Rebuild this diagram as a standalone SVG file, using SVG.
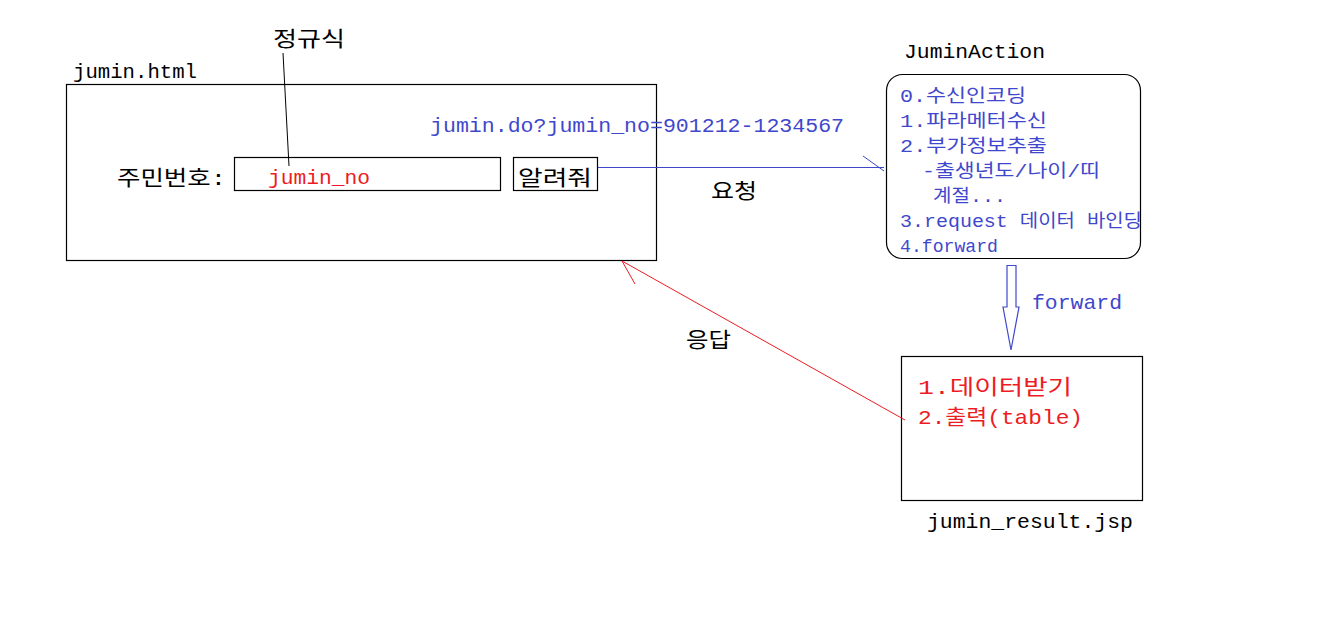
<svg xmlns="http://www.w3.org/2000/svg" width="1330" height="618" viewBox="0 0 1330 618">
<style>
.t{font-family:"Liberation Mono","Noto Sans CJK KR",monospace;font-size:21px;fill:#000}
.b{fill:#3f48cc;font-size:18px}
.r{fill:#ed1c24}
.bl{fill:#3f48cc}
.box{fill:#fff;stroke:#000;stroke-width:1.2}
</style>
<rect width="1330" height="618" fill="#fff"/>
<g id="jumin-html">
<rect class="box" x="66.5" y="84.5" width="590" height="176"/>
<text class="t" x="73" y="78" textLength="124" lengthAdjust="spacingAndGlyphs">jumin.html</text>
<text class="t" x="117" y="185" textLength="109" lengthAdjust="spacingAndGlyphs">주민번호:</text>
<rect class="box" x="234.5" y="157.5" width="266" height="33"/>
<text class="t r" x="268" y="184" textLength="102" lengthAdjust="spacingAndGlyphs">jumin_no</text>
<rect class="box" x="513.5" y="157.5" width="84" height="33"/>
<text class="t" x="518" y="185" textLength="74" lengthAdjust="spacingAndGlyphs">알려줘</text>
</g>
<g id="regex-label">
<text class="t" x="273" y="46" textLength="72" lengthAdjust="spacingAndGlyphs">정규식</text>
</g>
<g id="url-label">
<text class="t bl" x="430" y="132" textLength="414" lengthAdjust="spacingAndGlyphs">jumin.do?jumin_no=901212-1234567</text>
</g>
<g id="jumin-action">
<text class="t" x="904" y="58" textLength="141" lengthAdjust="spacingAndGlyphs">JuminAction</text>
<rect class="box" x="886.5" y="74.5" width="254" height="184" rx="16"/>
<text class="t b" x="900" y="102" textLength="126" lengthAdjust="spacingAndGlyphs">0.수신인코딩</text>
<text class="t b" x="900" y="127" textLength="147" lengthAdjust="spacingAndGlyphs">1.파라메터수신</text>
<text class="t b" x="900" y="152" textLength="147" lengthAdjust="spacingAndGlyphs">2.부가정보추출</text>
<text class="t b" x="922" y="177" textLength="178" lengthAdjust="spacingAndGlyphs">-출생년도/나이/띠</text>
<text class="t b" x="933" y="202" textLength="73" lengthAdjust="spacingAndGlyphs">계절...</text>
<text class="t b" x="900" y="227" textLength="242" lengthAdjust="spacingAndGlyphs">3.request 데이터 바인딩</text>
<text class="t b" x="900" y="252" textLength="98" lengthAdjust="spacingAndGlyphs">4.forward</text>
</g>
<g id="jumin-result">
<rect class="box" x="901.5" y="356.5" width="241" height="144"/>
<text class="t r" x="918" y="394" textLength="154" lengthAdjust="spacingAndGlyphs">1.데이터받기</text>
<text class="t r" x="918" y="424" textLength="165" lengthAdjust="spacingAndGlyphs">2.출력(table)</text>
<text class="t" x="927" y="528" textLength="206" lengthAdjust="spacingAndGlyphs">jumin_result.jsp</text>
</g>
<g id="connectors">
<line x1="283" y1="53" x2="289" y2="166" stroke="#000" stroke-width="1"/>
<g id="request">
<line x1="598" y1="167.5" x2="884" y2="167.5" stroke="#3f48cc" stroke-width="1"/>
<line x1="863" y1="156" x2="884" y2="171" stroke="#3f48cc" stroke-width="1"/>
<text class="t" x="711" y="198" textLength="46" lengthAdjust="spacingAndGlyphs">요청</text>
</g>
<g id="response">
<line x1="905" y1="420" x2="622" y2="261" stroke="#ed1c24" stroke-width="1"/>
<line x1="622" y1="261" x2="635" y2="284" stroke="#ed1c24" stroke-width="1"/>
<text class="t" x="686" y="347" textLength="45" lengthAdjust="spacingAndGlyphs">응답</text>
</g>
<g id="forward">
<polygon points="1007,265.5 1016,265.5 1016,307 1019,307 1011,350 1003,307 1007,307" fill="#fff" stroke="#3f48cc" stroke-width="1.2"/>
<text class="t bl" x="1032" y="309" textLength="90" lengthAdjust="spacingAndGlyphs">forward</text>
</g>
</g>
</svg>
